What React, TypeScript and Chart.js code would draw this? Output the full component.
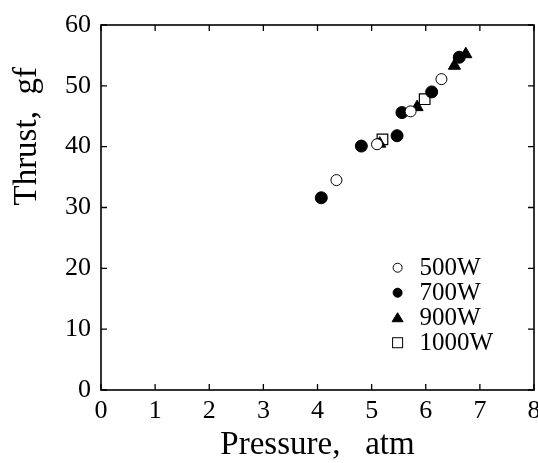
import React, { useEffect, useRef } from "react";
import { Chart, registerables } from "chart.js";

Chart.register(...registerables);

const xTicks = [0, 1, 2, 3, 4, 5, 6, 7, 8];
const yTicks = [0, 10, 20, 30, 40, 50, 60];

const p500x = [4.35, 5.1, 5.72, 6.29];
const p500y = [34.5, 40.4, 45.8, 51.1];
const p700x = [4.07, 4.81, 5.47, 5.56, 6.11, 6.62];
const p700y = [31.6, 40.1, 41.8, 45.6, 49.0, 54.7];
const p900x = [5.15, 5.84, 6.53, 6.74];
const p900y = [40.5, 46.5, 53.3, 55.2];
const p1000x = [5.2, 5.98];
const p1000y = [41.2, 47.8];

const seriesLabels = ["500W", "700W", "900W", "1000W"];
const xTitle = "Pressure,   atm";
const yTitle = "Thrust,  gf";

const FONT = "'Liberation Serif', 'Times New Roman', serif";

const pts = (xs: number[], ys: number[]) => xs.map((x, i) => ({ x, y: ys[i] }));

const framePlugin = {
  id: "frameTicks",
  afterDraw(chart: any) {
    const { ctx, chartArea } = chart;
    const xs = chart.scales.x;
    const ys = chart.scales.y;
    const { left, right, top, bottom } = chartArea;
    ctx.save();
    ctx.strokeStyle = "#000";
    ctx.lineWidth = 1.6;
    ctx.strokeRect(left, top, right - left, bottom - top);
    ctx.lineWidth = 1.3;
    const L = 6;
    ctx.beginPath();
    xTicks.forEach((v) => {
      const px = xs.getPixelForValue(v);
      ctx.moveTo(px, bottom);
      ctx.lineTo(px, bottom - L);
      ctx.moveTo(px, top);
      ctx.lineTo(px, top + L);
    });
    yTicks.forEach((v) => {
      const py = ys.getPixelForValue(v);
      ctx.moveTo(left, py);
      ctx.lineTo(left + L, py);
      ctx.moveTo(right, py);
      ctx.lineTo(right - L, py);
    });
    ctx.stroke();

    // y axis title
    ctx.save();
    ctx.fillStyle = "#000";
    ctx.font = `33px ${FONT}`;
    ctx.textAlign = "center";
    ctx.textBaseline = "alphabetic";
    ctx.translate(36, ys.getPixelForValue(41.7));
    ctx.rotate(-Math.PI / 2);
    ctx.fillText(yTitle, 0, 0);
    ctx.restore();

    // legend inside plot area
    const lx = xs.getPixelForValue(5.48);
    const ly0 = ys.getPixelForValue(20.1);
    const step = 25;
    chart.data.datasets.forEach((ds: any, i: number) => {
      const cy = ly0 + i * step;
      ctx.save();
      ctx.fillStyle = ds.backgroundColor;
      ctx.strokeStyle = ds.borderColor;
      ctx.lineWidth = 1;
      const style = ds.pointStyle;
      if (style === "circle") {
        ctx.beginPath();
        ctx.arc(lx, cy, 4.5, 0, Math.PI * 2);
        ctx.fill();
        ctx.stroke();
      } else if (style === "triangle") {
        ctx.beginPath();
        ctx.moveTo(lx, cy - 5);
        ctx.lineTo(lx + 5.5, cy + 4);
        ctx.lineTo(lx - 5.5, cy + 4);
        ctx.closePath();
        ctx.fill();
        ctx.stroke();
      } else {
        ctx.fillRect(lx - 5, cy - 5, 10, 10);
        ctx.strokeRect(lx - 5, cy - 5, 10, 10);
      }
      ctx.restore();
      ctx.fillStyle = "#000";
      ctx.font = `25px ${FONT}`;
      ctx.textAlign = "left";
      ctx.textBaseline = "middle";
      ctx.fillText(ds.label, lx + 22, cy + 1);
    });
    ctx.restore();
  },
};

export default function App() {
  const ref = useRef<HTMLCanvasElement>(null);
  useEffect(() => {
    document.body.style.margin = "0";
    const data = {
      datasets: [
        {
          label: seriesLabels[0],
          data: pts(p500x, p500y),
          pointStyle: "circle",
          pointRadius: 5.5,
          backgroundColor: "#fff",
          borderColor: "#000",
          borderWidth: 1,
        },
        {
          label: seriesLabels[1],
          data: pts(p700x, p700y),
          pointStyle: "circle",
          pointRadius: 6,
          backgroundColor: "#000",
          borderColor: "#000",
          borderWidth: 1,
        },
        {
          label: seriesLabels[2],
          data: pts(p900x, p900y),
          pointStyle: "triangle",
          pointRadius: 7,
          backgroundColor: "#000",
          borderColor: "#000",
          borderWidth: 1,
        },
        {
          label: seriesLabels[3],
          data: pts(p1000x, p1000y),
          pointStyle: "rect",
          pointRadius: 7.5,
          backgroundColor: "#fff",
          borderColor: "#000",
          borderWidth: 1.2,
        },
      ],
    };
    const chart = new Chart(ref.current as HTMLCanvasElement, {
      type: "scatter",
      data: data as any,
      options: {
        animation: false,
        responsive: false,
        layout: { autoPadding: false, padding: { top: 25, right: 4, left: 0, bottom: 0 } },
        plugins: { legend: { display: false }, tooltip: { enabled: false } },
        scales: {
          x: {
            type: "linear",
            min: 0,
            max: 8,
            afterBuildTicks: (s: any) => {
              s.ticks = xTicks.map((v) => ({ value: v }));
            },
            afterFit: (s: any) => {
              s.height = 73;
              s.paddingLeft = 0;
              s.paddingRight = 0;
            },
            grid: { display: false, drawTicks: false, tickLength: 0 },
            border: { display: false },
            ticks: {
              color: "#000",
              font: { family: FONT, size: 26 },
              padding: 6,
              maxRotation: 0,
              autoSkip: false,
            },
            title: {
              display: true,
              text: xTitle,
              color: "#000",
              font: { family: FONT, size: 33 },
              padding: { top: 0, bottom: -2 },
            },
          },
          y: {
            type: "linear",
            min: 0,
            max: 60,
            afterBuildTicks: (s: any) => {
              s.ticks = yTicks.map((v) => ({ value: v }));
            },
            afterFit: (s: any) => {
              s.width = 101;
              s.paddingTop = 0;
              s.paddingBottom = 0;
            },
            grid: { display: false, drawTicks: false, tickLength: 0 },
            border: { display: false },
            ticks: {
              color: "#000",
              font: { family: FONT, size: 26 },
              padding: 10,
            },
            title: { display: false },
          },
        },
      },
      plugins: [framePlugin],
    });
    return () => chart.destroy();
  }, []);
  return <canvas ref={ref} width={538} height={463} style={{ display: "block" }} />;
}
